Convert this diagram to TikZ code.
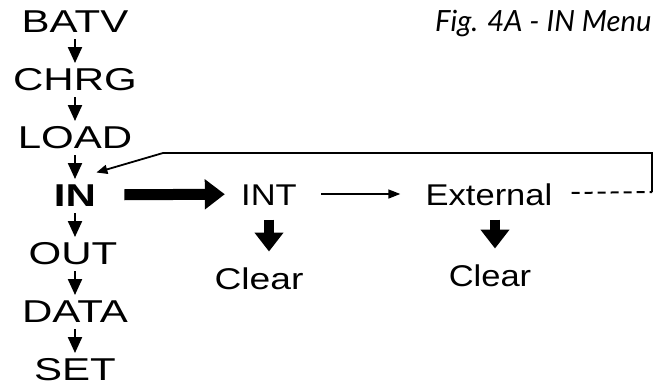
\documentclass[tikz,border=0pt]{standalone}
\usepackage{fontspec}
\setmainfont{Liberation Sans}
\newfontfamily\colfont[FakeStretch=1.33]{Liberation Sans}
\newfontfamily\midfont[FakeStretch=1.15]{Liberation Sans}
\newfontfamily\clearfont[FakeStretch=1.24]{Liberation Sans}
\newfontfamily\figfont{Lato}
\usetikzlibrary{arrows.meta}

\tikzset{
  item/.style={inner sep=1.75pt, text height=11.1pt, text depth=0pt,
    font=\fontsize{15.5}{18}\selectfont},
  colitem/.style={item, font=\fontsize{15.8}{18}\selectfont\colfont},
  menuitem/.style={item, font=\fontsize{15}{18}\selectfont\midfont},
  next/.style={line width=1.1pt, -{Triangle[length=8pt,width=7pt]},
    shorten <=1.5pt, shorten >=0.5pt},
  down/.style={line width=5pt, -{Triangle[length=9.5pt,width=14pt]},
    shorten <=5.25pt, shorten >=5.75pt}
}

\begin{document}
\begin{tikzpicture}[x=0.5pt,y=-0.5pt]
  \useasboundingbox (0,0) rectangle (661,387);
  % main menu column
  \node[colitem] (batv) at (75,21) {BATV};
  \node[colitem] (chrg) at (75,79) {CHRG};
  \node[colitem] (load) at (75,137) {LOAD};
  \node[colitem,font=\fontsize{15.8}{18}\selectfont\colfont\bfseries] (in) at (75,195) {IN};
  \node[colitem] (out) at (73,253) {OUT};
  \node[colitem] (data) at (75,311) {DATA};
  \node[colitem] (set) at (75,369) {SET};
  \draw[next] (batv) -- (chrg);
  \draw[next] (chrg) -- (load);
  \draw[next] (load) -- (in);
  \draw[next] (in) -- (in |- out.north);
  \draw[next] (in |- out.south) -- (data);
  \draw[next] (data) -- (set);
  % IN submenu
  \node[menuitem] (int) at (269,194) {INT};
  \node[menuitem] (ext) at (489,194) {External};
  \node[item,font=\fontsize{15}{18}\selectfont\clearfont] (clearint) at (259,278) {Clear};
  \node[menuitem] (clearext) at (490,275) {Clear};
  \draw[line width=5.5pt, -{Triangle[length=10pt,width=14.5pt]},
    shorten <=12.25pt, shorten >=6.25pt] (in) -- (int);
  \draw[line width=0.75pt, -{Triangle[length=6pt,width=4.5pt]},
    shorten <=10.25pt, shorten >=10.75pt] (int) -- (ext);
  \draw[down] (int) -- (int |- clearint.north);
  \draw[down] ([xshift=3pt]ext.south) -- ([xshift=3pt]ext.south |- clearext.north);
  % back to IN
  \coordinate (loopcorner) at (652,192);
  \coordinate (looptop) at (163,153);
  \draw[line width=1pt, dash pattern=on 4pt off 2.5pt, shorten <=7.75pt] (ext) -- (loopcorner);
  \draw[line width=0.9pt, -{Triangle[length=5.5pt,width=4.5pt]}]
    (loopcorner) |- (looptop) -- ([xshift=-1.75pt,yshift=3.75pt]in.north east);
  \node[anchor=base east, inner sep=0pt, font=\fontsize{14.6}{17}\selectfont\figfont\itshape]
    (title) at (652,31) {Fig. 4A - IN Menu};
\end{tikzpicture}
\end{document}
